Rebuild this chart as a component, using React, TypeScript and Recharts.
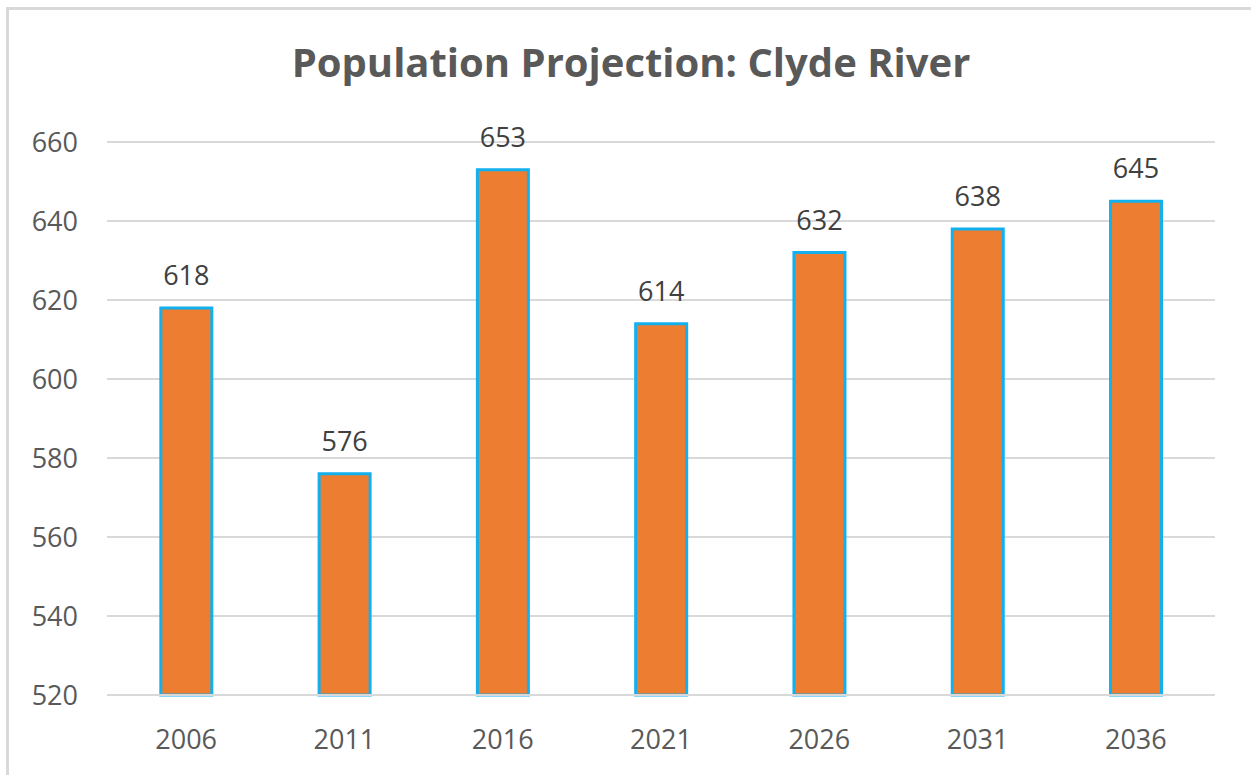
import { Bar, BarChart, CartesianGrid, LabelList, XAxis, YAxis } from "recharts";

const years = ["2006", "2011", "2016", "2021", "2026", "2031", "2036"];
const population = [618, 576, 653, 614, 632, 638, 645];
const yTicks = [520, 540, 560, 580, 600, 620, 640, 660];

const data = years.map((year, i) => ({ year, population: population[i] }));

const font = "'Open Sans', sans-serif";
const textColor = "#595959";
const gridColor = "#d9d9d9";

export default function App() {
  return (
    <div style={{ position: "absolute", left: 0, top: 0, width: 1251, height: 775, overflow: "hidden", background: "#fff", fontFamily: font }}>
      <div
        style={{
          position: "absolute",
          left: 6,
          top: 7,
          width: 1300,
          height: 800,
          borderTop: `3px solid ${gridColor}`,
          borderLeft: `3px solid ${gridColor}`,
        }}
      />
      <div
        style={{
          position: "absolute",
          left: 0,
          top: 34,
          width: 1262,
          textAlign: "center",
          fontSize: 40,
          fontWeight: 700,
          color: textColor,
        }}
      >
        Population Projection: Clyde River
      </div>
      <div style={{ position: "absolute", left: 0, top: 0 }}>
        <BarChart
          width={1251}
          height={775}
          data={data}
          margin={{ top: 142, right: 36, bottom: 0, left: 27 }}
          barCategoryGap="34%"
        >
          <CartesianGrid vertical={false} stroke={gridColor} strokeWidth={2} />
          <XAxis
            dataKey="year"
            height={80}
            axisLine={{ stroke: gridColor, strokeWidth: 2 }}
            tickLine={false}
            tickSize={0}
            tickMargin={35}
            tick={{ fill: textColor, fontSize: 27, fontFamily: font }}
          />
          <YAxis
            width={80}
            domain={[520, 660]}
            ticks={yTicks}
            axisLine={false}
            tickLine={false}
            tickSize={0}
            tickMargin={29}
            tick={{ fill: textColor, fontSize: 27, fontFamily: font }}
          />
          <Bar dataKey="population" fill="#ED7D31" stroke="#12B0EE" strokeWidth={3} isAnimationActive={false}>
            <LabelList
              dataKey="population"
              position="top"
              offset={23}
              style={{ fill: "#404040", fontSize: 27, fontFamily: font }}
            />
          </Bar>
        </BarChart>
      </div>
    </div>
  );
}
